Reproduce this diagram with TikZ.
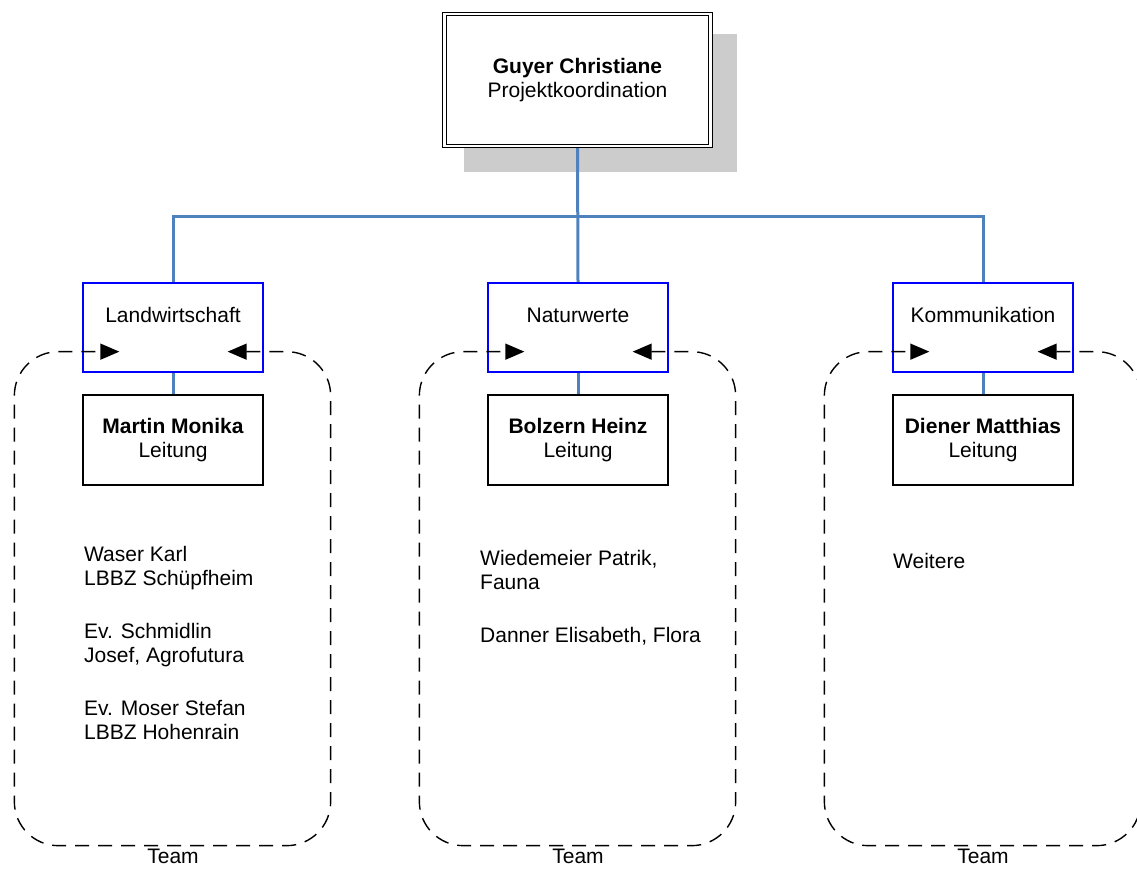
\documentclass[tikz,border=0pt]{standalone}
\usepackage{fontspec}
\setmainfont{Liberation Sans}
\usepackage{tikz}
\usetikzlibrary{arrows.meta,positioning,calc,backgrounds}
\definecolor{linkblue}{RGB}{79,129,189}
\definecolor{shadowgray}{RGB}{204,204,204}

\begin{document}
\begin{tikzpicture}[x=1pt, y=-1pt,
    every node/.style={font=\fontsize{21}{24.5}\selectfont},
    link/.style={draw=linkblue, line width=3pt},
    areabox/.style={draw=blue, fill=white, line width=1.3pt, minimum width=180, minimum height=89,
      text height=15pt, text depth=25pt},
    leadbox/.style={draw, fill=white, line width=1.3pt, minimum width=180, minimum height=90, align=center},
    teamline/.style={draw, dashed, dash pattern=on 14pt off 9pt, line width=1.4pt, rounded corners=44pt,
      {Triangle[length=19pt,width=16pt]}-{Triangle[length=19pt,width=16pt]}},
    members/.style={anchor=north west, inner sep=0pt, align=left}]
  \useasboundingbox (0,0) rectangle (1137,868);

  % Projektleitung
  \node[draw, fill=white, double, line width=1.2pt, double distance=2.2pt,
        minimum width=266, minimum height=132, align=center] (chef) at (577.5,80)
    {\textbf{Guyer Christiane}\\Projektkoordination};

  % Teilprojekte
  \node[areabox] (land)  at (173,327.5) {Landwirtschaft};
  \node[areabox] (natur) at (578,327.5) {Naturwerte};
  \node[areabox] (komm)  at (983,327.5) {Kommunikation};

  \node[leadbox] (martin)  at (173,440) {\textbf{Martin Monika}\\Leitung};
  \node[leadbox] (bolzern) at (578,440) {\textbf{Bolzern Heinz}\\Leitung};
  \node[leadbox] (diener)  at (983,440) {\textbf{Diener Matthias}\\Leitung};

  % Teams
  \node[members] (teamland) at (84,546)
    {Waser Karl\\LBBZ Schüpfheim\\[28pt]Ev. Schmidlin\\Josef, Agrofutura\\[28pt]Ev. Moser Stefan\\LBBZ Hohenrain};
  \node[members] (teamnatur) at (480,550)
    {Wiedemeier Patrik,\\Fauna\\[28pt]Danner Elisabeth, Flora};
  \node[members] (teamkomm) at (893,553) {Weitere};

  \draw[teamline] ($(land.south east)+(-36,-21)$) -- ($(land.south east)+(67,-21)$)
    -- ($(land.south east)+(67,473)$) -- ($(land.south west)+(-68,473)$)
    -- ($(land.south west)+(-68,-21)$) -- ($(land.south west)+(37,-21)$);
  \draw[teamline] ($(natur.south east)+(-36,-21)$) -- ($(natur.south east)+(67,-21)$)
    -- ($(natur.south east)+(67,473)$) -- ($(natur.south west)+(-68,473)$)
    -- ($(natur.south west)+(-68,-21)$) -- ($(natur.south west)+(37,-21)$);
  \draw[teamline] ($(komm.south east)+(-36,-21)$) -- ($(komm.south east)+(67,-21)$)
    -- ($(komm.south east)+(67,473)$) -- ($(komm.south west)+(-68,473)$)
    -- ($(komm.south west)+(-68,-21)$) -- ($(komm.south west)+(37,-21)$);

  \node[anchor=north, inner sep=3pt] (teamlabelL) at ($(martin.south)+(0,360)$) {Team};
  \node[anchor=north, inner sep=3pt] (teamlabelN) at ($(bolzern.south)+(0,360)$) {Team};
  \node[anchor=north, inner sep=3pt] (teamlabelK) at ($(diener.south)+(0,360)$) {Team};

  % Verbindungen und Schatten hinter den Kästen
  \begin{scope}[on background layer]
    \fill[shadowgray] ($(chef.north west)+(20.5,20.5)$) rectangle ($(chef.south east)+(25.5,25.5)$);
    \coordinate (bus) at (173,216);
    \draw[link] (chef.south) -- (natur.north);
    \draw[link] (land.north) -- (land.north |- bus) -- (komm.north |- bus) -- (komm.north);
    \draw[link] (land.south) -- (martin.north);
    \draw[link] (natur.south) -- (bolzern.north);
    \draw[link] (komm.south) -- (diener.north);
  \end{scope}
\end{tikzpicture}
\end{document}
